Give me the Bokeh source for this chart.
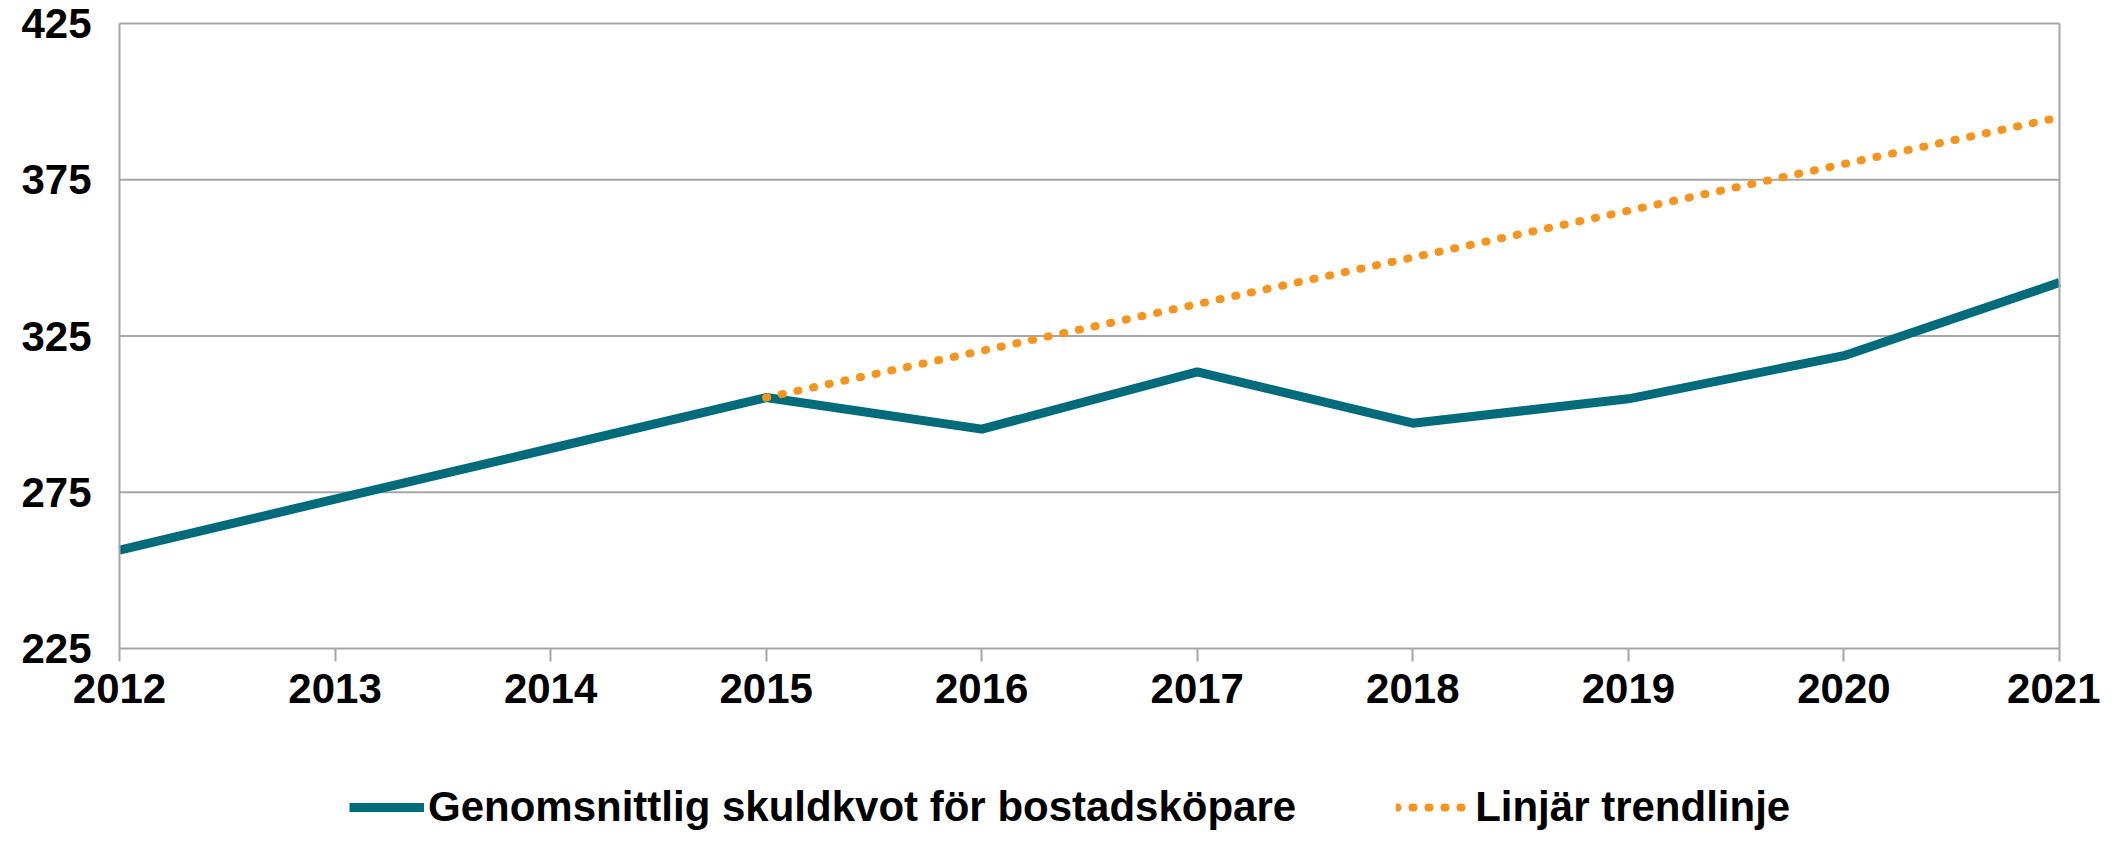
from bokeh.plotting import figure
from bokeh.models import FixedTicker, Legend, LegendItem, Range1d, LinearAxis
from bokeh.embed import file_html
from bokeh.resources import INLINE

years = [2012, 2013, 2014, 2015, 2016, 2017, 2018, 2019, 2020, 2021]
skuldkvot = [256.5, 272.8, 289.0, 305.3, 295.2, 313.5, 297.1, 304.9, 318.7, 342.1]
trend_years = [2015, 2021]
trend_values = [305.3, 395.0]
y_ticks = [225, 275, 325, 375, 425]

FONT = "Liberation Sans"
GRID = "#A6A6A6"
FS = "42px"

# Layout (figure pixels): the data box spans x 119..2059 and y 23..648.
W, H = 2100, 831
LEFT, RIGHT, TOP, BOTTOM = 119, 2059, 23, 648
ppx = (RIGHT - LEFT) / (years[-1] - years[0])
ppy = (BOTTOM - TOP) / (y_ticks[-1] - y_ticks[0])
x_range = Range1d(years[0] - LEFT / ppx, years[-1] + (W - RIGHT) / ppx)
y_range = Range1d(y_ticks[0] - (H - BOTTOM) / ppy, y_ticks[-1] + TOP / ppy)

p = figure(width=W, height=H, output_backend="svg", toolbar_location=None,
           x_range=x_range, y_range=y_range,
           min_border_left=0, min_border_right=0, min_border_top=0, min_border_bottom=0)

p.outline_line_color = None
p.background_fill_color = "white"
p.border_fill_color = "white"
p.xgrid.visible = False
p.ygrid.visible = False

# horizontal gridlines (incl. top and bottom of the box), limited to the data span
n = len(y_ticks)
p.segment(x0=[years[0]] * n, x1=[years[-1]] * n, y0=y_ticks, y1=y_ticks,
          line_color=GRID, line_width=2)

p.yaxis.fixed_location = years[0]
p.yaxis.ticker = FixedTicker(ticks=y_ticks)
p.yaxis.bounds = (y_ticks[0], y_ticks[-1])
p.yaxis.axis_line_color = GRID
p.yaxis.axis_line_width = 2
p.yaxis.major_tick_line_color = None
p.yaxis.minor_tick_line_color = None
p.yaxis.major_tick_out = 0
p.yaxis.major_tick_in = 0
p.yaxis.major_label_standoff = 28
p.yaxis.major_label_text_font = FONT
p.yaxis.major_label_text_font_style = "bold"
p.yaxis.major_label_text_font_size = FS
p.yaxis.major_label_text_color = "black"

right = LinearAxis(ticker=FixedTicker(ticks=[]), bounds=(y_ticks[0], y_ticks[-1]),
                   fixed_location=years[-1],
                   axis_line_color=GRID, axis_line_width=2,
                   major_tick_line_color=None, minor_tick_line_color=None,
                   major_label_text_font_size="0px")
p.add_layout(right, "right")

p.xaxis.fixed_location = y_ticks[0]
p.xaxis.ticker = FixedTicker(ticks=years)
p.xaxis.bounds = (years[0], years[-1])
p.xaxis.axis_line_color = None
p.xaxis.major_tick_line_color = GRID
p.xaxis.major_tick_line_width = 2
p.xaxis.major_tick_out = 13
p.xaxis.major_tick_in = 0
p.xaxis.minor_tick_line_color = None
p.xaxis.major_label_standoff = 12
p.xaxis.major_label_text_font = FONT
p.xaxis.major_label_text_font_style = "bold"
p.xaxis.major_label_text_font_size = FS
p.xaxis.major_label_text_color = "black"
p.xaxis.formatter.use_scientific = False

r1 = p.line(years, skuldkvot, line_color="#006B7A", line_width=9, line_join="round")
r2 = p.line(trend_years, trend_values, line_color="#F7941D", line_width=8,
            line_dash="1 15", line_cap="round")

legend = Legend(items=[
    LegendItem(label="Genomsnittlig skuldkvot för bostadsköpare", renderers=[r1]),
    LegendItem(label="Linjär trendlinje", renderers=[r2]),
], orientation="horizontal", location=(349, 0))
legend.label_text_font = FONT
legend.label_text_font_style = "bold"
legend.label_text_font_size = FS
legend.label_text_color = "black"
legend.glyph_width = 75
legend.glyph_height = 40
legend.label_standoff = 4
legend.spacing = 100
legend.border_line_color = None
legend.background_fill_alpha = 0
legend.margin = 0
legend.padding = 0
p.add_layout(legend, "center")

open("out.html", "w").write(file_html(p, INLINE))
